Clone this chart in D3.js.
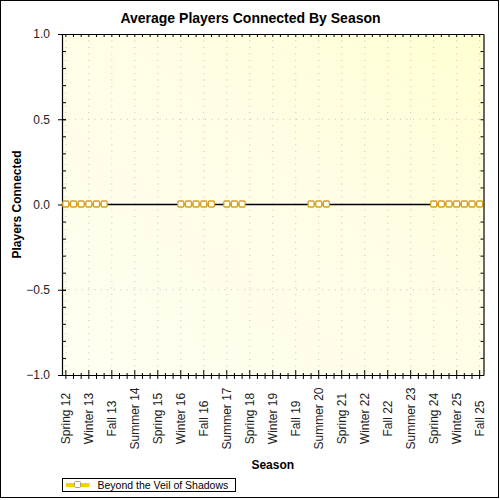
<!DOCTYPE html>
<html>
<head>
<meta charset="utf-8">
<script src="https://cdn.jsdelivr.net/npm/d3@7"></script>
<style>
  body { margin: 0; background: #fff; }
  svg { display: block; font-family: "Liberation Sans", Arial, sans-serif; }
</style>
</head>
<body>
<svg width="500" height="500"></svg>
<script>
// seasons on the category axis, in order
const seasons = [
  'Spring 12', 'Summer 12', 'Fall 12',
  'Winter 13', 'Spring 13', 'Summer 13', 'Fall 13',
  'Winter 14', 'Spring 14', 'Summer 14', 'Fall 14',
  'Winter 15', 'Spring 15', 'Summer 15', 'Fall 15',
  'Winter 16', 'Spring 16', 'Summer 16', 'Fall 16',
  'Winter 17', 'Spring 17', 'Summer 17', 'Fall 17',
  'Winter 18', 'Spring 18', 'Summer 18', 'Fall 18',
  'Winter 19', 'Spring 19', 'Summer 19', 'Fall 19',
  'Winter 20', 'Spring 20', 'Summer 20', 'Fall 20',
  'Winter 21', 'Spring 21', 'Summer 21', 'Fall 21',
  'Winter 22', 'Spring 22', 'Summer 22', 'Fall 22',
  'Winter 23', 'Spring 23', 'Summer 23', 'Fall 23',
  'Winter 24', 'Spring 24', 'Summer 24', 'Fall 24',
  'Winter 25', 'Spring 25', 'Summer 25', 'Fall 25'
];

// players connected per season (null = no data)
const playersConnected = [
  0, 0, 0,
  0, 0, 0, null,
  null, null, null, null,
  null, null, null, null,
  0, 0, 0, 0,
  0, null, 0, 0,
  0, null, null, null,
  null, null, null, null,
  null, 0, 0, 0,
  null, null, null, null,
  null, null, null, null,
  null, null, null, null,
  null, 0, 0, 0,
  0, 0, 0, 0
];

// labelled seasons on the x axis
const shownSeasons = [
  'Spring 12', 'Winter 13', 'Fall 13', 'Summer 14', 'Spring 15', 'Winter 16',
  'Fall 16', 'Summer 17', 'Spring 18', 'Winter 19', 'Fall 19', 'Summer 20',
  'Spring 21', 'Winter 22', 'Fall 22', 'Summer 23', 'Spring 24', 'Winter 25', 'Fall 25'
];

const yMajorTicks = [-1.0, -0.5, 0.0, 0.5, 1.0];
const seriesName = 'Beyond the Veil of Shadows';

const plot = { left: 62, right: 483.5, top: 34, bottom: 375 };

const svg = d3.select('svg');

const x = d3.scaleBand().domain(seasons).range([plot.left, plot.right]).padding(0);
const y = d3.scaleLinear().domain([-1, 1]).range([plot.bottom, plot.top]);
const cx = s => x(s) + x.bandwidth() / 2;
const yMinorTicks = d3.range(-10, 11).map(d => d / 10);

// outer frame
svg.append('rect')
    .attr('x', 0.5).attr('y', 0.5)
    .attr('width', 498).attr('height', 497)
    .attr('fill', '#fff')
    .attr('stroke', '#000');

// plot background
const defs = svg.append('defs');
const grad = defs.append('linearGradient')
    .attr('id', 'bg')
    .attr('x1', '0').attr('y1', '1')
    .attr('x2', '1').attr('y2', '0');
grad.append('stop').attr('offset', '0%').attr('stop-color', '#fffff2');
grad.append('stop').attr('offset', '60%').attr('stop-color', '#fffde4');
grad.append('stop').attr('offset', '100%').attr('stop-color', '#ffffd2');

svg.append('rect')
    .attr('x', plot.left).attr('y', plot.top)
    .attr('width', plot.right - plot.left)
    .attr('height', plot.bottom - plot.top)
    .attr('fill', 'url(#bg)');

// grid
svg.append('g')
  .selectAll('line')
  .data(shownSeasons)
  .enter()
  .append('line')
    .attr('x1', d => cx(d)).attr('x2', d => cx(d))
    .attr('y1', plot.top).attr('y2', plot.bottom)
    .attr('stroke', '#c4c4c4')
    .attr('stroke-dasharray', '1,5.5');

svg.append('g')
  .selectAll('line')
  .data([-0.5, 0.5])
  .enter()
  .append('line')
    .attr('x1', plot.left).attr('x2', plot.right)
    .attr('y1', d => y(d)).attr('y2', d => y(d))
    .attr('stroke', '#c4c4c4')
    .attr('stroke-dasharray', '1,5.5');

// zero line
svg.append('line')
    .attr('x1', plot.left).attr('x2', plot.right)
    .attr('y1', y(0)).attr('y2', y(0))
    .attr('stroke', '#000')
    .attr('stroke-width', 1.4);

// left axis: labels + crossing major ticks
const yAxis = svg.append('g')
    .attr('transform', `translate(${plot.left},0)`)
    .call(d3.axisLeft(y).tickValues(yMajorTicks).tickFormat(d3.format('.1f')).tickSize(4).tickPadding(8));
yAxis.selectAll('.tick line').attr('x2', -4).attr('x1', 4);
yAxis.selectAll('.tick text')
    .attr('font-size', 12)
    .attr('font-family', '"Liberation Sans", Arial, sans-serif')
    .attr('fill', '#222');

// left minor ticks (inside)
svg.append('g')
    .attr('transform', `translate(${plot.left},0)`)
    .call(d3.axisRight(y).tickValues(yMinorTicks).tickFormat('').tickSize(4))
    .call(g => g.select('.domain').remove());

// right axis (inside ticks)
svg.append('g')
    .attr('transform', `translate(${plot.right},0)`)
    .call(d3.axisLeft(y).tickValues(yMinorTicks).tickFormat('').tickSizeInner(3).tickSizeOuter(0));

// top axis (inside ticks)
svg.append('g')
    .attr('transform', `translate(0,${plot.top})`)
    .call(d3.axisBottom(x).tickFormat('').tickSizeInner(3).tickSizeOuter(0));

// bottom axis: crossing ticks on every season
const xAxis = svg.append('g')
    .attr('transform', `translate(0,${plot.bottom})`)
    .call(d3.axisBottom(x).tickFormat('').tickSizeInner(4).tickSizeOuter(0));
xAxis.selectAll('.tick line')
    .attr('y1', d => shownSeasons.includes(d) ? -5 : -2)
    .attr('y2', 4);

xAxis.selectAll('.tick')
  .filter(d => shownSeasons.includes(d))
  .append('text')
    .attr('transform', 'translate(0,43.5) rotate(-90)')
    .attr('text-anchor', 'middle')
    .attr('dy', '0.33em')
    .attr('fill', '#222')
    .attr('font-size', 12)
    .attr('font-family', '"Liberation Sans", Arial, sans-serif')
    .text(d => d);

svg.selectAll('.domain').attr('stroke', '#000').attr('stroke-width', 1.2);
svg.selectAll('.tick line').attr('stroke', '#000');

// series
const points = seasons.map((s, i) => ({ season: s, value: playersConnected[i] }));

const line = d3.line()
    .defined(d => d.value !== null)
    .x(d => cx(d.season))
    .y(d => y(d.value));

svg.append('path')
    .datum(points)
    .attr('d', line)
    .attr('fill', 'none')
    .attr('stroke', '#d9a81c')
    .attr('stroke-width', 2);

svg.append('g')
  .selectAll('rect')
  .data(points.filter(d => d.value !== null))
  .enter()
  .append('rect')
    .attr('x', d => cx(d.season) - 3)
    .attr('y', d => y(d.value) - 3.5)
    .attr('width', 6)
    .attr('height', 6)
    .attr('rx', 1.2)
    .attr('fill', '#fffff4')
    .attr('stroke', '#d4a020')
    .attr('stroke-width', 1.3);

// titles
svg.append('text')
    .attr('x', 250.5).attr('y', 23)
    .attr('text-anchor', 'middle')
    .attr('font-size', 14)
    .attr('font-weight', 'bold')
    .text('Average Players Connected By Season');

svg.append('text')
    .attr('transform', `translate(20.5,${y(0)}) rotate(-90)`)
    .attr('text-anchor', 'middle')
    .attr('font-size', 12)
    .attr('font-weight', 'bold')
    .text('Players Connected');

svg.append('text')
    .attr('x', (plot.left + plot.right) / 2).attr('y', 469)
    .attr('text-anchor', 'middle')
    .attr('font-size', 12)
    .attr('font-weight', 'bold')
    .text('Season');

// legend
const legend = svg.append('g');
legend.append('rect')
    .attr('x', 62.5).attr('y', 478.5)
    .attr('width', 173).attr('height', 13)
    .attr('fill', '#fff')
    .attr('stroke', '#000');
legend.append('line')
    .attr('x1', 66).attr('x2', 89.5)
    .attr('y1', 485).attr('y2', 485)
    .attr('stroke', '#f2d200')
    .attr('stroke-width', 4);
legend.append('rect')
    .attr('x', 74.5).attr('y', 481.5)
    .attr('width', 6).attr('height', 6)
    .attr('rx', 1)
    .attr('fill', '#fff')
    .attr('stroke', '#b8a060');
legend.append('text')
    .attr('x', 97.5).attr('y', 489)
    .attr('font-size', 10.5)
    .text(seriesName);
</script>
</body>
</html>
